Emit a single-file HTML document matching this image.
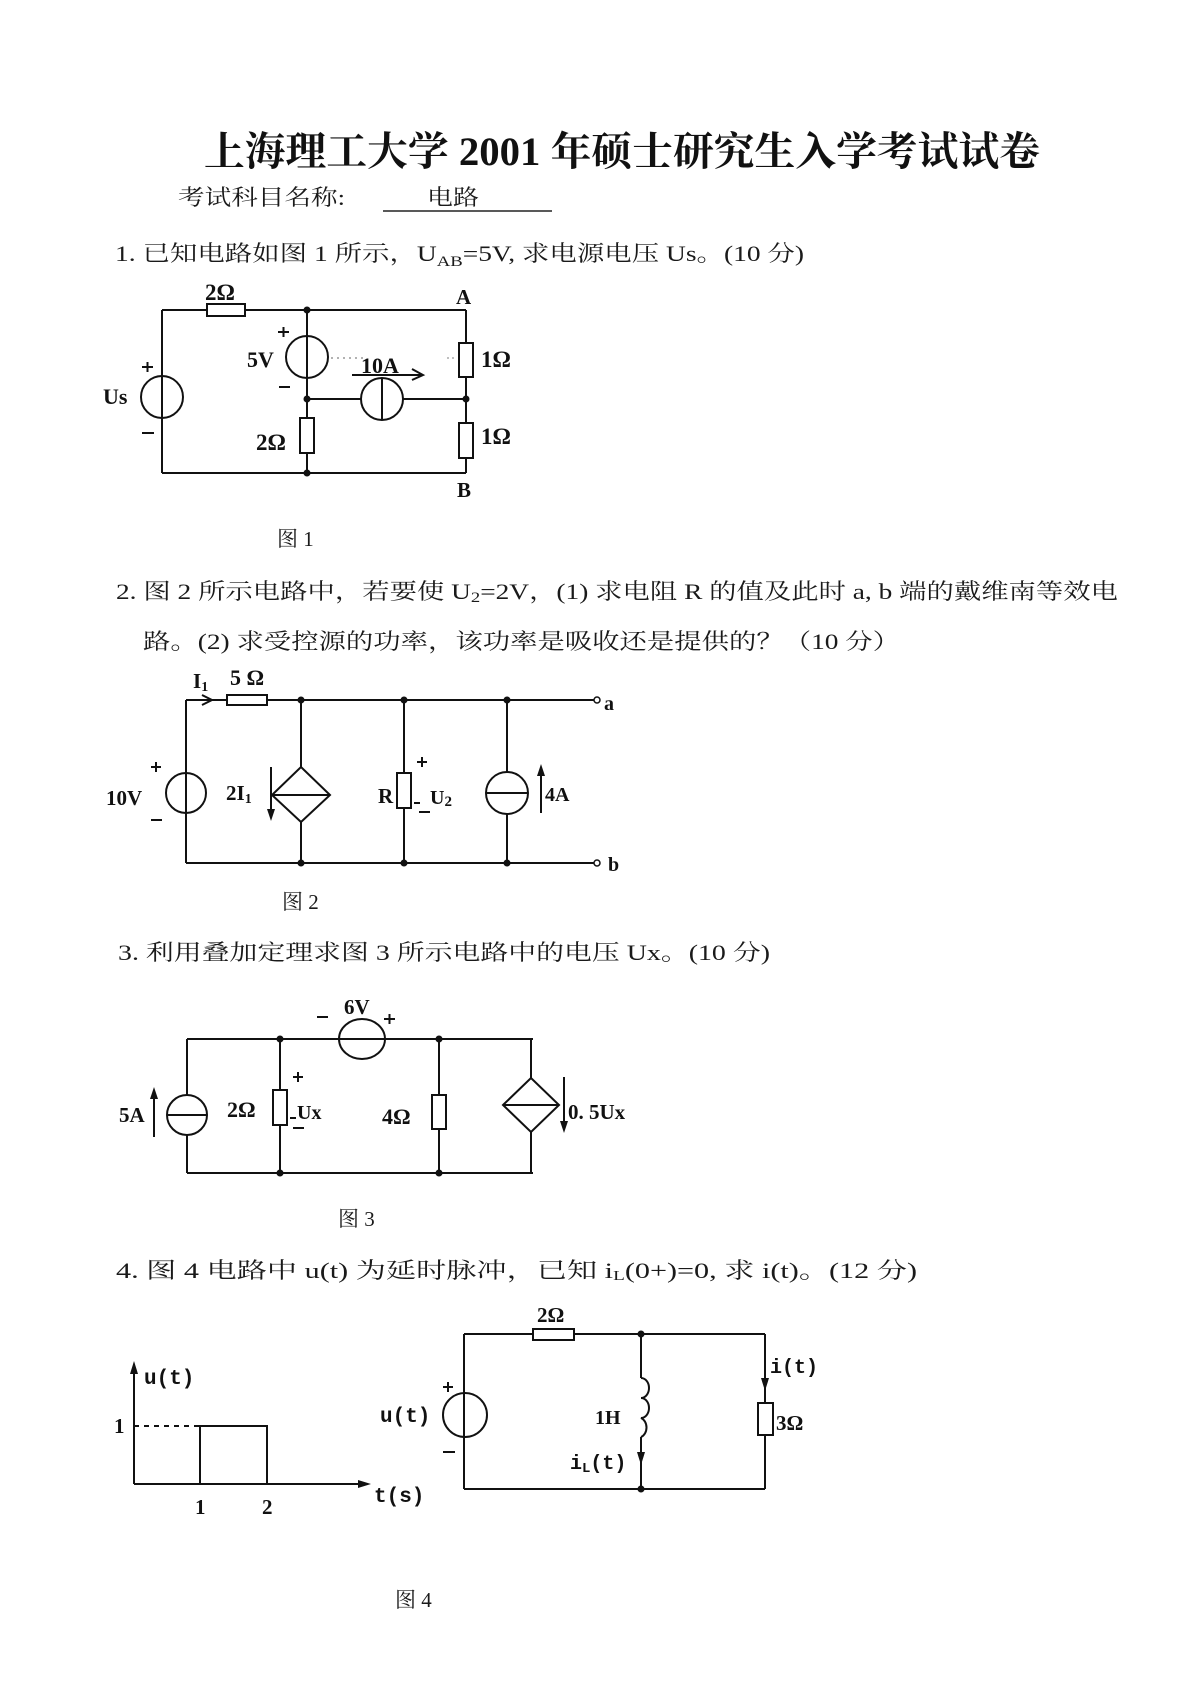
<!DOCTYPE html>
<html><head><meta charset="utf-8"><style>
html,body{margin:0;padding:0;background:#fff;}
svg{display:block;}
.t{font-family:"Liberation Serif","Noto Serif CJK SC",serif;fill:#1a1a1a;}
.ti{font-family:"Liberation Serif","Noto Serif CJK SC",serif;fill:#111;font-weight:bold;}
.l{font-family:"Liberation Serif","Noto Serif CJK SC",serif;font-weight:bold;fill:#111;}
.m{font-family:"Liberation Mono",monospace;font-weight:bold;fill:#111;}
</style></head><body>
<svg width="1190" height="1683" viewBox="0 0 1190 1683" xmlns="http://www.w3.org/2000/svg">
<rect width="1190" height="1683" fill="#fff"/>

<!-- Title -->
<text class="ti" x="204" y="165" font-size="40" textLength="836" lengthAdjust="spacingAndGlyphs">上海理工大学 2001 年硕士研究生入学考试试卷</text>
<text class="t" x="178" y="205" font-size="22" textLength="167" lengthAdjust="spacingAndGlyphs">考试科目名称:</text>
<text class="t" x="427" y="205" font-size="22" textLength="52" lengthAdjust="spacingAndGlyphs">电路</text>
<line x1="383" y1="211" x2="552" y2="211" stroke="#222" stroke-width="1.5"/>

<!-- Q1 -->
<text class="t" x="115" y="261" font-size="22" textLength="689" lengthAdjust="spacingAndGlyphs">1. 已知电路如图 1 所示，U<tspan font-size="15" dy="5">AB</tspan><tspan dy="-5">=5V, 求电源电压 Us。(10 分)</tspan></text>

<!-- Circuit 1 -->
<g stroke="#111" stroke-width="2" fill="none">
  <line x1="162" y1="310" x2="162" y2="473"/>
  <line x1="162" y1="310" x2="207" y2="310"/>
  <rect x="207" y="304" width="38" height="12" fill="#fff"/>
  <line x1="245" y1="310" x2="466" y2="310"/>
  <line x1="162" y1="473" x2="466" y2="473"/>
  <circle cx="162" cy="397" r="21"/>
  <line x1="307" y1="310" x2="307" y2="473"/>
  <circle cx="307" cy="357" r="21"/>
  <rect x="300" y="418" width="14" height="35" fill="#fff"/>
  <line x1="466" y1="310" x2="466" y2="473"/>
  <rect x="459" y="343" width="14" height="34" fill="#fff"/>
  <rect x="459" y="423" width="14" height="35" fill="#fff"/>
  <line x1="307" y1="399" x2="466" y2="399"/>
  <circle cx="382" cy="399" r="21" fill="#fff"/>
  <line x1="382" y1="378" x2="382" y2="420"/>
  <line x1="352" y1="375" x2="423" y2="375"/>
  <polyline points="412,369 423,375 412,380"/>
  <line x1="142" y1="367" x2="153" y2="367"/><line x1="147.5" y1="362" x2="147.5" y2="372"/>
  <line x1="142" y1="433" x2="154" y2="433"/>
  <line x1="278" y1="332" x2="289" y2="332"/><line x1="283.5" y1="327" x2="283.5" y2="337"/>
  <line x1="279" y1="387" x2="290" y2="387"/>
</g>
<line x1="331" y1="358" x2="365" y2="358" stroke="#999" stroke-width="1.5" stroke-dasharray="2 4"/>
<line x1="447" y1="358" x2="454" y2="358" stroke="#aaa" stroke-width="1.5" stroke-dasharray="2 3"/>
<g fill="#111">
  <circle cx="307" cy="310" r="3.5"/><circle cx="307" cy="399" r="3.5"/>
  <circle cx="307" cy="473" r="3.5"/><circle cx="466" cy="399" r="3.5"/>
</g>
<text class="l" x="205" y="300" font-size="23">2Ω</text>
<text class="l" x="456" y="304" font-size="21">A</text>
<text class="l" x="457" y="497" font-size="21">B</text>
<text class="l" x="103" y="404" font-size="22">Us</text>
<text class="l" x="247" y="367" font-size="22">5V</text>
<text class="l" x="361" y="373" font-size="22">10A</text>
<text class="l" x="481" y="367" font-size="23">1Ω</text>
<text class="l" x="481" y="444" font-size="23">1Ω</text>
<text class="l" x="256" y="450" font-size="23">2Ω</text>
<text class="t" x="277" y="546" font-size="21">图 1</text>

<!-- Q2 -->
<text class="t" x="116" y="599" font-size="22" textLength="1002" lengthAdjust="spacingAndGlyphs">2. 图 2 所示电路中，若要使 U<tspan font-size="15" dy="3">2</tspan><tspan dy="-3">=2V，(1) 求电阻 R 的值及此时 a, b 端的戴维南等效电</tspan></text>
<text class="t" x="143" y="649" font-size="22" textLength="757" lengthAdjust="spacingAndGlyphs">路。(2) 求受控源的功率，该功率是吸收还是提供的？（10 分）</text>

<!-- Circuit 2 -->
<g stroke="#111" stroke-width="2" fill="none">
  <line x1="186" y1="700" x2="186" y2="863"/>
  <circle cx="186" cy="793" r="20"/>
  <line x1="186" y1="700" x2="227" y2="700"/>
  <rect x="227" y="695" width="40" height="10" fill="#fff"/>
  <line x1="267" y1="700" x2="594" y2="700"/>
  <line x1="186" y1="863" x2="594" y2="863"/>
  <polyline points="202,695 212,700 202,705"/>
  <line x1="301" y1="700" x2="301" y2="767"/>
  <line x1="301" y1="822" x2="301" y2="863"/>
  <polygon points="272,795 301,767 330,795 301,822"/>
  <line x1="272" y1="795" x2="330" y2="795"/>
  <line x1="271" y1="767" x2="271" y2="812"/>
  <line x1="404" y1="700" x2="404" y2="863"/>
  <rect x="397" y="773" width="14" height="35" fill="#fff"/>
  <line x1="507" y1="700" x2="507" y2="772"/>
  <line x1="507" y1="814" x2="507" y2="863"/>
  <circle cx="507" cy="793" r="21"/>
  <line x1="486" y1="793" x2="528" y2="793"/>
  <line x1="541" y1="813" x2="541" y2="773"/>
  <line x1="151" y1="767" x2="161" y2="767"/><line x1="156" y1="762" x2="156" y2="772"/>
  <line x1="151" y1="820" x2="162" y2="820"/>
  <line x1="417" y1="762" x2="427" y2="762"/><line x1="422" y1="757" x2="422" y2="767"/>
  <line x1="419" y1="812" x2="430" y2="812"/>
  <line x1="414" y1="803" x2="420" y2="803"/>
</g>
<g fill="#111">
  <polygon points="267,809 275,809 271,821"/>
  <polygon points="537,776 545,776 541,764"/>
  <circle cx="301" cy="700" r="3.5"/><circle cx="404" cy="700" r="3.5"/><circle cx="507" cy="700" r="3.5"/>
  <circle cx="301" cy="863" r="3.5"/><circle cx="404" cy="863" r="3.5"/><circle cx="507" cy="863" r="3.5"/>
</g>
<circle cx="597" cy="700" r="3" fill="#fff" stroke="#111" stroke-width="1.5"/>
<circle cx="597" cy="863" r="3" fill="#fff" stroke="#111" stroke-width="1.5"/>
<text class="l" x="193" y="688" font-size="21">I<tspan font-size="14" dy="3">1</tspan></text>
<text class="l" x="230" y="685" font-size="22">5 Ω</text>
<text class="l" x="106" y="805" font-size="21">10V</text>
<text class="l" x="226" y="800" font-size="21">2I<tspan font-size="14" dy="3">1</tspan></text>
<text class="l" x="378" y="803" font-size="21">R</text>
<text class="l" x="430" y="804" font-size="20">U<tspan font-size="15" dy="2">2</tspan></text>
<text class="l" x="545" y="801" font-size="20">4A</text>
<text class="l" x="604" y="710" font-size="20">a</text>
<text class="l" x="608" y="871" font-size="20">b</text>
<text class="t" x="282" y="909" font-size="21">图 2</text>

<!-- Q3 -->
<text class="t" x="118" y="960" font-size="22" textLength="652" lengthAdjust="spacingAndGlyphs">3. 利用叠加定理求图 3 所示电路中的电压 Ux。(10 分)</text>

<!-- Circuit 3 -->
<g stroke="#111" stroke-width="2" fill="none">
  <line x1="187" y1="1039" x2="533" y2="1039"/>
  <ellipse cx="362" cy="1039" rx="23" ry="20"/>
  <line x1="187" y1="1173" x2="533" y2="1173"/>
  <line x1="187" y1="1039" x2="187" y2="1095"/>
  <line x1="187" y1="1135" x2="187" y2="1173"/>
  <circle cx="187" cy="1115" r="20"/>
  <line x1="167" y1="1115" x2="207" y2="1115"/>
  <line x1="154" y1="1137" x2="154" y2="1098"/>
  <line x1="280" y1="1039" x2="280" y2="1173"/>
  <rect x="273" y="1090" width="14" height="35" fill="#fff"/>
  <line x1="439" y1="1039" x2="439" y2="1173"/>
  <rect x="432" y="1095" width="14" height="34" fill="#fff"/>
  <line x1="531" y1="1039" x2="531" y2="1078"/>
  <line x1="531" y1="1132" x2="531" y2="1173"/>
  <polygon points="503,1105 531,1078 559,1105 531,1132"/>
  <line x1="503" y1="1105" x2="559" y2="1105"/>
  <line x1="564" y1="1077" x2="564" y2="1122"/>
  <line x1="317" y1="1017" x2="328" y2="1017"/>
  <line x1="384" y1="1019" x2="395" y2="1019"/><line x1="389.5" y1="1014" x2="389.5" y2="1024"/>
  <line x1="293" y1="1077" x2="303" y2="1077"/><line x1="298" y1="1072" x2="298" y2="1082"/>
  <line x1="293" y1="1128" x2="304" y2="1128"/>
  <line x1="290" y1="1118" x2="296" y2="1118"/>
</g>
<g fill="#111">
  <polygon points="150,1099 158,1099 154,1087"/>
  <polygon points="560,1121 568,1121 564,1133"/>
  <circle cx="280" cy="1039" r="3.5"/><circle cx="439" cy="1039" r="3.5"/>
  <circle cx="280" cy="1173" r="3.5"/><circle cx="439" cy="1173" r="3.5"/>
</g>
<text class="l" x="344" y="1014" font-size="21">6V</text>
<text class="l" x="119" y="1122" font-size="21">5A</text>
<text class="l" x="227" y="1117" font-size="22">2Ω</text>
<text class="l" x="297" y="1119" font-size="20">Ux</text>
<text class="l" x="382" y="1124" font-size="22">4Ω</text>
<text class="l" x="568" y="1119" font-size="21">0. 5Ux</text>
<text class="t" x="338" y="1226" font-size="21">图 3</text>

<!-- Q4 -->
<text class="t" x="116" y="1278" font-size="22" textLength="801" lengthAdjust="spacingAndGlyphs">4. 图 4 电路中 u(t) 为延时脉冲，已知  i<tspan font-size="14" dy="2">L</tspan><tspan dy="-2">(0+)=0, 求 i(t)。(12 分)</tspan></text>

<!-- Graph -->
<g stroke="#111" stroke-width="2" fill="none">
  <line x1="134" y1="1484" x2="134" y2="1372"/>
  <line x1="134" y1="1484" x2="360" y2="1484"/>
  <polyline points="200,1484 200,1426 267,1426 267,1484"/>
  <line x1="134" y1="1426" x2="200" y2="1426" stroke-dasharray="5 5"/>
</g>
<g fill="#111">
  <polygon points="130,1374 138,1374 134,1361"/>
  <polygon points="358,1480 358,1488 371,1484"/>
</g>
<text class="m" x="144" y="1384" font-size="21">u(t)</text>
<text class="l" x="114" y="1433" font-size="21">1</text>
<text class="l" x="195" y="1514" font-size="21">1</text>
<text class="l" x="262" y="1514" font-size="21">2</text>
<text class="m" x="374" y="1502" font-size="21">t(s)</text>

<!-- Circuit 4 -->
<g stroke="#111" stroke-width="2" fill="none">
  <line x1="464" y1="1334" x2="533" y2="1334"/>
  <rect x="533" y="1329" width="41" height="11" fill="#fff"/>
  <line x1="574" y1="1334" x2="765" y2="1334"/>
  <line x1="464" y1="1489" x2="765" y2="1489"/>
  <line x1="464" y1="1334" x2="464" y2="1489"/>
  <ellipse cx="465" cy="1415" rx="22" ry="22"/>
  <line x1="641" y1="1334" x2="641" y2="1378"/>
  <path d="M641 1378 a8 10 0 0 1 0 20 a8 10 0 0 1 0 20 a8 10 0 0 1 0 19"/>
  <line x1="641" y1="1437" x2="641" y2="1489"/>
  <line x1="765" y1="1334" x2="765" y2="1403"/>
  <rect x="758" y="1403" width="15" height="32" fill="#fff"/>
  <line x1="765" y1="1435" x2="765" y2="1489"/>
  <line x1="443" y1="1387" x2="453" y2="1387"/><line x1="448" y1="1382" x2="448" y2="1392"/>
  <line x1="443" y1="1452" x2="455" y2="1452"/>
</g>
<g fill="#111">
  <polygon points="637,1452 645,1452 641,1465"/>
  <polygon points="761,1378 769,1378 765,1391"/>
  <circle cx="641" cy="1334" r="3.5"/><circle cx="641" cy="1489" r="3.5"/>
</g>
<text class="l" x="537" y="1322" font-size="21">2Ω</text>
<text class="m" x="380" y="1422" font-size="21">u(t)</text>
<text class="l" x="595" y="1424" font-size="20">1H</text>
<text class="m" x="570" y="1469" font-size="20">i<tspan font-size="14" dy="3">L</tspan><tspan dy="-3">(t)</tspan></text>
<text class="m" x="770" y="1373" font-size="20">i(t)</text>
<text class="l" x="776" y="1430" font-size="21">3Ω</text>
<text class="t" x="395" y="1607" font-size="21">图 4</text>
</svg>
</body></html>
